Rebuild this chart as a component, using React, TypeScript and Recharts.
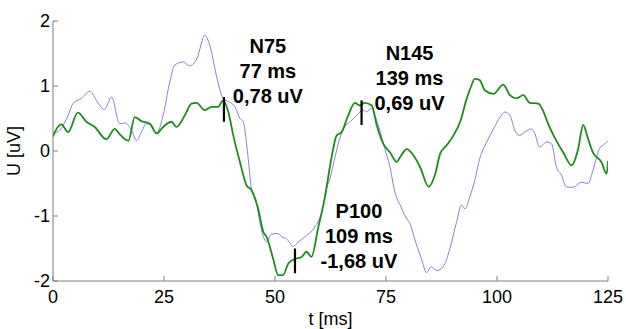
import { LineChart, Line, XAxis, YAxis, ReferenceLine, ReferenceDot } from "recharts";

const xTicks = [0, 25, 50, 75, 100, 125];
const yTicks = [-2, -1, 0, 1, 2];

// [t ms, U uV]
const blueTrace: [number, number][] = [
  [0, 0.27], [1.5, 0.32], [3.4, 0.55], [4.5, 0.73], [6.4, 0.81], [8.3, 0.92],
  [10.1, 0.74], [11.6, 0.64], [13.2, 0.83], [15, 0.42], [16.2, 0.43], [17.7, 0.32],
  [18.8, 0.16], [19.9, 0.29], [21, 0.42], [22.2, 0.4], [23.3, 0.27], [24.8, 0.55],
  [26.3, 1.06], [27.4, 1.32], [29.3, 1.37], [30.8, 1.31], [32.4, 1.42], [34.2, 1.78],
  [35.3, 1.63], [36.8, 1.16], [38.3, 0.81], [39.5, 0.76], [41, 0.68], [42.1, 0.5],
  [42.8, 0.46], [43.9, -0.07], [44.7, -0.58], [45.8, -0.78], [46.6, -1.1], [48.1, -1.4],
  [49.2, -1.28], [50.7, -1.27], [51.5, -1.32], [52.6, -1.35], [54.1, -1.47], [55.2, -1.4],
  [57.1, -1.3], [59, -1.17], [60.5, -0.94], [61.6, -0.58], [62.4, -0.42], [63.5, -0.1],
  [64.4, 0.15], [65.4, 0.34], [66.9, 0.45], [68.4, 0.55], [69.9, 0.63], [70.6, 0.6],
  [71.8, 0.66], [72.5, 0.55], [73.6, 0.32], [74.7, 0.04], [75.8, -0.22], [77, -0.63],
  [78.3, -0.85], [79.3, -1.0], [80.4, -1.12], [81.9, -1.45], [83, -1.66], [84.1, -1.87],
  [85.2, -1.78], [86.4, -1.84], [87.9, -1.78], [89.4, -1.5], [90.9, -1.09], [92, -0.83],
  [92.8, -0.89], [93.9, -0.7], [95, -0.45], [96.1, -0.12], [97.7, 0.14], [99.2, 0.34],
  [100.7, 0.52], [101.8, 0.6], [102.9, 0.55], [104, 0.32], [105.1, 0.24], [106.2, 0.29],
  [107.8, 0.34], [108.5, 0.27], [109.6, 0.06], [111.2, 0.14], [112.3, 0.11], [113.4, -0.25],
  [114.5, -0.37], [115.6, -0.55], [117.1, -0.56], [119, -0.48], [120.5, -0.5], [121.6, -0.3],
  [123.1, 0.04], [124.3, 0.11], [125, 0.16],
];

const greenTrace: [number, number][] = [
  [0, 0.22], [0.8, 0.34], [1.9, 0.41], [3.4, 0.29], [5.6, 0.59], [7.5, 0.45],
  [9.4, 0.37], [12, 0.18], [13.9, 0.34], [15, 0.26], [16.2, 0.18], [17, 0.16],
  [18.4, 0.52], [19.9, 0.46], [21.8, 0.42], [23.3, 0.27], [24.8, 0.37], [26.7, 0.45],
  [27.8, 0.37], [29.7, 0.55], [31.2, 0.73], [32.3, 0.74], [34.2, 0.63], [35.7, 0.68],
  [37.2, 0.68], [38.3, 0.78], [39.5, 0.6], [40.6, 0.24], [42.1, -0.17], [43.6, -0.53],
  [44.7, -0.6], [46.2, -0.89], [47.4, -1.25], [48.1, -1.32], [49.6, -1.66], [50.7, -1.91],
  [51.8, -1.91], [53, -1.73], [54.5, -1.66], [56, -1.63], [57.1, -1.55], [58.2, -1.63],
  [59.7, -1.19], [61.2, -0.73], [62.6, -0.15], [63.9, 0.24], [65, 0.29], [66.5, 0.55],
  [68, 0.74], [69.1, 0.7], [70.2, 0.74], [71.8, 0.7], [72.9, 0.4], [74.4, 0.11],
  [75.9, -0.02], [77.4, -0.17], [78.3, -0.08], [79.7, 0.03], [81.2, -0.07], [82.7, -0.25],
  [84.6, -0.55], [86.1, -0.35], [87.2, -0.04], [88.7, 0.09], [90.2, 0.24], [91.7, 0.45],
  [93.2, 0.81], [94.2, 1.0], [95, 1.11], [96.1, 1.09], [97.3, 0.93], [99.2, 0.88],
  [101.4, 1.02], [102.9, 0.86], [104.4, 0.81], [105.9, 0.86], [107.4, 0.74], [109.3, 0.73],
  [110.5, 0.6], [111.5, 0.42], [113.1, 0.19], [114.9, -0.02], [116.8, -0.22], [118.3, 0.04],
  [119.4, 0.4], [120.5, 0.19], [121.6, -0.02], [123.5, -0.17], [124.7, -0.35], [125, -0.15],
];

// peak markers: time and the span of the short black bar
const peakMarks = [
  { t: 38.5, lo: 0.45, hi: 0.83 },
  { t: 54.5, lo: -1.88, hi: -1.5 },
  { t: 69.5, lo: 0.4, hi: 0.78 },
];

const peakLabels = [
  { t: 48.4, u: 1.23, lines: ["N75", "77 ms", "0,78 uV"] },
  { t: 68.9, u: -1.31, lines: ["P100", "109 ms", "-1,68 uV"] },
  { t: 80.3, u: 1.13, lines: ["N145", "139 ms", "0,69 uV"] },
];

const blueData = blueTrace.map(([t, u]) => ({ t, u }));
const greenData = greenTrace.map(([t, u]) => ({ t, u }));

const font = "Arial, 'Liberation Sans', sans-serif";
const frame = "#7f7f7f";

const PeakText = (props: any) => {
  const { viewBox, lines } = props;
  const cx = viewBox.x + viewBox.width / 2;
  const cy = viewBox.y + viewBox.height / 2;
  return (
    <text
      x={cx}
      y={cy}
      textAnchor="middle"
      fontFamily={font}
      fontSize={20}
      fontWeight="bold"
      fill="#000"
    >
      {lines.map((l: string, i: number) => (
        <tspan key={i} x={cx} y={cy + (i - 1) * 25} dy="0.36em">
          {l}
        </tspan>
      ))}
    </text>
  );
};

export default function App() {
  return (
    <div style={{ position: "absolute", left: 0, top: 0, background: "#fff" }}>
      <LineChart
        width={626}
        height={329}
        margin={{ top: 21, right: 18, left: 0, bottom: 0 }}
      >
        <XAxis
          xAxisId="b"
          dataKey="t"
          type="number"
          domain={[0, 125]}
          ticks={xTicks}
          allowDataOverflow
          height={48}
          stroke={frame}
          tickSize={-5}
          tickMargin={14}
          tick={{ fill: "#000", fontSize: 18, fontFamily: font }}
          label={{
            value: "t [ms]",
            position: "insideBottom",
            offset: 4,
            fill: "#000",
            fontSize: 18,
            fontFamily: font,
          }}
        />
        <XAxis
          xAxisId="t"
          orientation="top"
          dataKey="t"
          type="number"
          domain={[0, 125]}
          ticks={xTicks}
          height={0}
          stroke={frame}
          tickSize={-5}
          tick={false}
        />
        <YAxis
          yAxisId="l"
          type="number"
          domain={[-2, 2]}
          ticks={yTicks}
          allowDataOverflow
          width={53}
          stroke={frame}
          tickSize={-5}
          tickMargin={8}
          tick={{ fill: "#000", fontSize: 18, fontFamily: font }}
          label={{
            content: (p: any) => (
              <text
                x={p.viewBox.x + 14}
                y={p.viewBox.y + p.viewBox.height / 2}
                transform={`rotate(-90 ${p.viewBox.x + 14} ${p.viewBox.y + p.viewBox.height / 2})`}
                textAnchor="middle"
                dy="0.36em"
                fontFamily={font}
                fontSize={18}
                fill="#000"
              >
                U [uV]
              </text>
            ),
          }}
        />
        <YAxis
          yAxisId="r"
          orientation="right"
          type="number"
          domain={[-2, 2]}
          ticks={yTicks}
          width={0}
          stroke={frame}
          tickSize={-5}
          tick={false}
        />
        <Line
          xAxisId="b"
          yAxisId="l"
          data={blueData}
          dataKey="u"
          type="monotone"
          stroke="#8383d6"
          strokeWidth={1}
          dot={false}
          isAnimationActive={false}
        />
        <Line
          xAxisId="b"
          yAxisId="l"
          data={greenData}
          dataKey="u"
          type="monotone"
          stroke="#1f8a1f"
          strokeWidth={1.8}
          dot={false}
          isAnimationActive={false}
        />
        {peakMarks.map((m, i) => (
          <ReferenceLine
            key={i}
            xAxisId="b"
            yAxisId="l"
            segment={[
              { x: m.t, y: m.lo },
              { x: m.t, y: m.hi },
            ]}
            stroke="#000"
            strokeWidth={2.2}
          />
        ))}
        {peakLabels.map((p, i) => (
          <ReferenceDot
            key={i}
            xAxisId="b"
            yAxisId="l"
            x={p.t}
            y={p.u}
            r={0.5}
            fill="none"
            stroke="none"
            label={<PeakText lines={p.lines} />}
          />
        ))}
      </LineChart>
    </div>
  );
}
